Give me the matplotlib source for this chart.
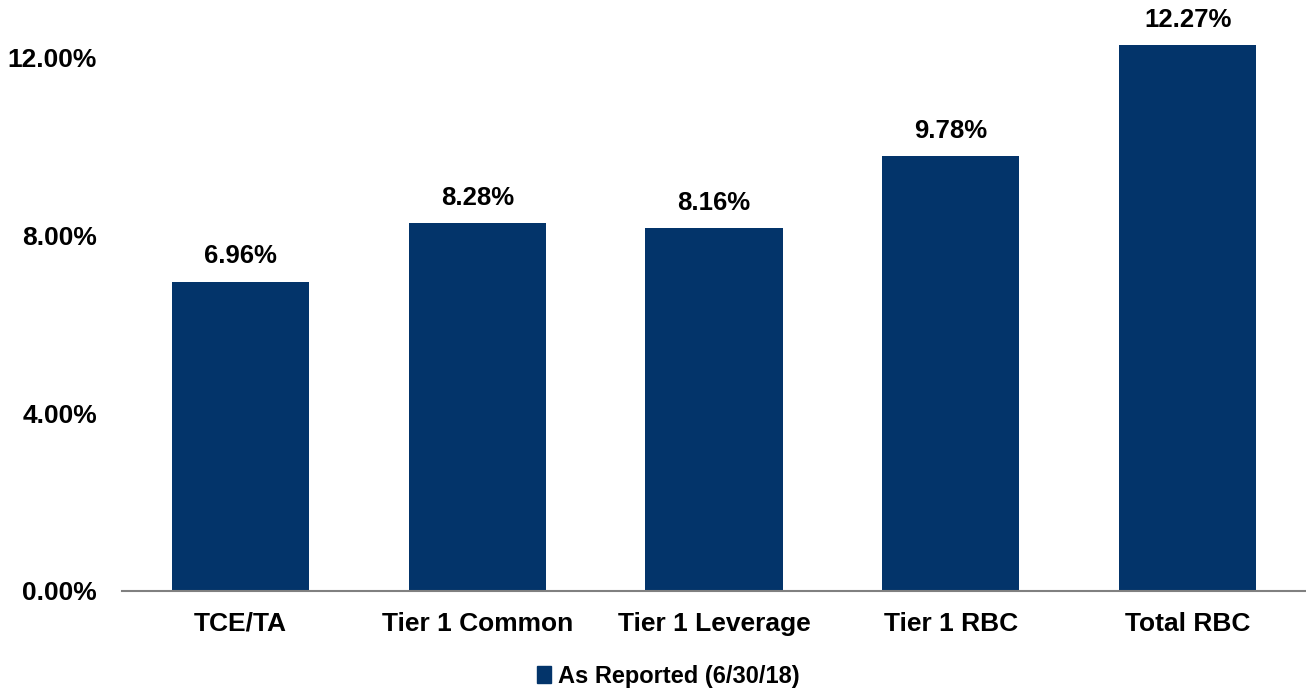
import matplotlib
matplotlib.use("Agg")
import matplotlib.pyplot as plt
from matplotlib.patches import Patch

categories = ["TCE/TA", "Tier 1 Common", "Tier 1 Leverage", "Tier 1 RBC", "Total RBC"]
values = [6.96, 8.28, 8.16, 9.78, 12.27]
yticks = [0, 4, 8, 12]
ytick_labels = ["0.00%", "4.00%", "8.00%", "12.00%"]
series_name = "As Reported (6/30/18)"

bar_color = "#03346A"
plt.rcParams['font.family'] = ['Liberation Sans', 'DejaVu Sans']

fig = plt.figure(figsize=(13.06, 6.93), dpi=100)
ax = fig.add_axes([122/1306, 1 - 591/693, (1306-122)/1306, (591-13)/693])

x = list(range(len(categories)))
ax.bar(x, values, width=0.58, color=bar_color, zorder=2)
for xi, v in zip(x, values):
    ax.text(xi, v + 0.3, f"{v:.2f}%", ha="center", va="bottom", fontsize=18.5, fontweight="bold")

ax.set_xlim(-0.5, len(categories) - 0.5)
ax.set_ylim(0, 13)
ax.set_yticks(yticks)
ax.set_yticklabels(ytick_labels, fontsize=19, fontweight="bold")
ax.set_xticks(x)
ax.set_xticklabels(categories, fontsize=19, fontweight="bold")
ax.tick_params(axis="both", length=0)
ax.tick_params(axis="y", pad=18)
ax.tick_params(axis="x", pad=15)
for s in ["top", "right", "left"]:
    ax.spines[s].set_visible(False)
ax.spines["bottom"].set_color("#808080")
ax.spines["bottom"].set_linewidth(1.5)

fig.legend(handles=[Patch(color=bar_color, label=series_name)], loc="center",
           bbox_to_anchor=(668/1306, 1 - 676/693), frameon=False,
           prop={"size": 17, "weight": "bold"}, handlelength=0.6, handleheight=0.7,
           handletextpad=0.3)

fig.savefig("out.png", dpi=100)
